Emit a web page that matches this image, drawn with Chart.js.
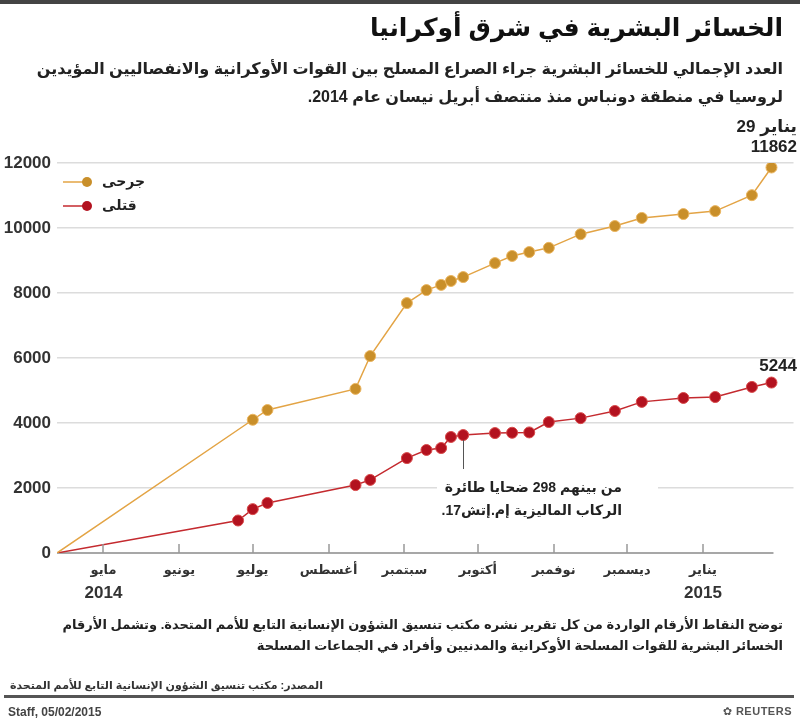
<!DOCTYPE html>
<html lang="ar">
<head>
<meta charset="utf-8">
<script src="https://cdn.jsdelivr.net/npm/chart.js@4"></script>
<style>
  body { margin: 0; background: #fff; }
  #wrap { position: relative; width: 800px; height: 723px; overflow: hidden; font-family: "Liberation Sans", "DejaVu Sans", sans-serif; color: #222; }
  #myChart { position: absolute; left: 0; top: 0; }
  .txt { position: absolute; direction: rtl; text-align: right; font-weight: bold; white-space: nowrap; }
  #topbar { position: absolute; left: 0; top: 0; width: 800px; height: 4px; background: #444; }
  #title { right: 17px; top: 13px; font-size: 25px; color: #111; }
  #sub { right: 17px; top: 55px; font-size: 16px; line-height: 28px; color: #222; }
  #note { right: 17px; top: 614px; font-size: 13px; line-height: 21px; color: #222; }
  #source { left: 10px; top: 679px; font-size: 11px; direction: rtl; color: #333; }
  #rule { position: absolute; left: 4px; top: 695px; width: 790px; height: 3px; background: #555; }
  #staff { position: absolute; left: 8px; top: 705px; font-size: 12px; font-weight: bold; color: #444; }
  #reuters { position: absolute; right: 8px; top: 705px; font-size: 11px; font-weight: bold; color: #555; letter-spacing: 0.5px; }
</style>
</head>
<body>
<div id="wrap">
  <canvas id="myChart" width="800" height="723"></canvas>
  <div id="topbar"></div>
  <div class="txt" id="title">الخسائر البشرية في شرق أوكرانيا</div>
  <div class="txt" id="sub">العدد الإجمالي للخسائر البشرية جراء الصراع المسلح بين القوات الأوكرانية والانفصاليين المؤيدين<br>لروسيا في منطقة دونباس منذ منتصف أبريل نيسان عام 2014.</div>
  <div class="txt" id="note">توضح النقاط الأرقام الواردة من كل تقرير نشره مكتب تنسيق الشؤون الإنسانية التابع للأمم المتحدة. وتشمل الأرقام<br>الخسائر البشرية للقوات المسلحة الأوكرانية والمدنيين وأفراد في الجماعات المسلحة</div>
  <div class="txt" id="source">المصدر: مكتب تنسيق الشؤون الإنسانية التابع للأمم المتحدة</div>
  <div id="rule"></div>
  <div id="staff">Staff, 05/02/2015</div>
  <div id="reuters">&#10047; REUTERS</div>
</div>
<script>
// days counted from 1 Jan 2014
let monthDays = [120, 151, 181, 212, 243, 273, 304, 334, 365];
let monthLabels = ['مايو', 'يونيو', 'يوليو', 'أغسطس', 'سبتمبر', 'أكتوبر', 'نوفمبر', 'ديسمبر', 'يناير'];
let yearLabels = ['2014', '', '', '', '', '', '', '', '2015'];

let woundedDays = [101, 181, 187, 223, 229, 244, 252, 258, 262, 267, 280, 287, 294, 302, 315, 329, 340, 357, 370, 385, 393];
let woundedValues = [0, 4100, 4400, 5050, 6060, 7690, 8090, 8250, 8370, 8490, 8920, 9140, 9260, 9390, 9810, 10060, 10310, 10430, 10520, 11010, 11862];

let killedDays = [101, 175, 181, 187, 223, 229, 244, 252, 258, 262, 267, 280, 287, 294, 302, 315, 329, 340, 357, 370, 385, 393];
let killedValues = [0, 1000, 1350, 1540, 2090, 2250, 2920, 3170, 3230, 3570, 3630, 3690, 3700, 3710, 4030, 4150, 4370, 4650, 4770, 4800, 5110, 5244];

let seriesNames = ['جرحى', 'قتلى'];
let lastDay = '29';
let lastMonth = 'يناير';
let noteIndex = 10; // killed point the MH17 note hangs from
let noteLines = ['من بينهم 298 ضحايا طائرة', 'الركاب الماليزية إم.إتش17.'];

const FONT = '"Liberation Sans", "DejaVu Sans", sans-serif';

function toPoints(days, vals) {
    return days.map((d, k) => ({ x: d, y: vals[k] }));
}

const extras = {
    id: 'extras',
    beforeDatasetsDraw(chart) {
        // zero line only runs as far as the data
        const c = chart.ctx;
        const xs = chart.scales.x;
        const y0 = chart.scales.y.getPixelForValue(0);
        c.save();
        c.strokeStyle = '#8a8a8a';
        c.lineWidth = 1.5;
        c.beginPath();
        c.moveTo(chart.chartArea.left, y0);
        c.lineTo(xs.getPixelForValue(woundedDays[woundedDays.length - 1]) + 2, y0);
        c.stroke();
        c.restore();
    },
    afterDatasetsDraw(chart) {
        const c = chart.ctx;
        const xs = chart.scales.x;
        const area = chart.chartArea;
        c.save();

        // tick marks pointing up from the baseline
        c.strokeStyle = '#999';
        c.lineWidth = 1.5;
        monthDays.forEach(d => {
            const px = Math.round(xs.getPixelForValue(d));
            c.beginPath();
            c.moveTo(px, area.bottom - 9);
            c.lineTo(px, area.bottom);
            c.stroke();
        });

        // years under the month names
        c.direction = 'ltr';
        c.fillStyle = '#333';
        c.font = 'bold 17px ' + FONT;
        c.textAlign = 'center';
        c.textBaseline = 'middle';
        yearLabels.forEach((y, k) => {
            if (y) c.fillText(y, xs.getPixelForValue(monthDays[k]), area.bottom + 40);
        });

        // end labels
        const w = chart.getDatasetMeta(0).data;
        const k = chart.getDatasetMeta(1).data;
        const wLast = w[w.length - 1];
        const kLast = k[k.length - 1];
        c.textAlign = 'right';
        c.fillStyle = '#222';
        c.fillText(woundedValues[woundedValues.length - 1], 797, wLast.y - 20);
        c.fillText(lastMonth, 797, wLast.y - 40);
        const mw = c.measureText(lastMonth).width;
        c.fillText(lastDay, 797 - mw - 5, wLast.y - 40);
        c.fillText(killedValues[killedValues.length - 1], 797, kLast.y - 16);

        // note about MH17
        const p = k[noteIndex];
        c.fillStyle = '#fff';
        c.fillRect(437, 474, 221, 48);
        c.strokeStyle = '#555';
        c.lineWidth = 1;
        c.beginPath();
        c.moveTo(Math.round(p.x) + 0.5, p.y + 5);
        c.lineTo(Math.round(p.x) + 0.5, p.y + 34);
        c.stroke();
        c.fillStyle = '#222';
        c.font = 'bold 14px ' + FONT;
        c.direction = 'rtl';
        c.textAlign = 'right';
        c.fillText(noteLines[0], 622, 488);
        c.fillText(noteLines[1], 622, 511);
        c.direction = 'ltr';

        // legend
        chart.data.datasets.forEach((ds, i) => {
            const ly = 182 + i * 24;
            c.strokeStyle = ds.borderColor;
            c.lineWidth = 1.5;
            c.beginPath();
            c.moveTo(63, ly);
            c.lineTo(87, ly);
            c.stroke();
            c.fillStyle = ds.pointBackgroundColor;
            c.beginPath();
            c.arc(87, ly, 5, 0, Math.PI * 2);
            c.fill();
            c.fillStyle = '#222';
            c.font = 'bold 14px ' + FONT;
            c.textAlign = 'left';
            c.fillText(seriesNames[i], 102, ly);
        });
        c.restore();
    }
};

const ctx = document.getElementById('myChart');

var chart = new Chart(ctx, {
    type: 'line',
    data: {
        datasets: [{
            label: seriesNames[0],
            data: toPoints(woundedDays, woundedValues),
            borderColor: '#e3a445',
            borderWidth: 1.5,
            pointBackgroundColor: '#c98f2a',
            pointBorderColor: '#eab560',
            pointBorderWidth: 1,
            pointRadius: (c) => c.dataIndex === 0 ? 0 : 5.5,
            tension: 0
        }, {
            label: seriesNames[1],
            data: toPoints(killedDays, killedValues),
            borderColor: '#c42a2f',
            borderWidth: 1.5,
            pointBackgroundColor: '#b3121f',
            pointBorderColor: '#d84a4a',
            pointBorderWidth: 1,
            pointRadius: (c) => c.dataIndex === 0 ? 0 : 5.5,
            tension: 0
        }]
    },
    options: {
        responsive: false,
        animation: false,
        devicePixelRatio: 1,
        layout: { padding: { top: 163, bottom: 110, left: 0, right: 2 } },
        plugins: {
            legend: { display: false },
            tooltip: { enabled: false }
        },
        scales: {
            x: {
                type: 'linear',
                min: 101,
                max: 402,
                afterBuildTicks: (s) => { s.ticks = monthDays.map(v => ({ value: v })); },
                afterFit: (s) => { s.height = 60; },
                grid: { display: false, drawTicks: false },
                border: { display: false },
                ticks: {
                    autoSkip: false,
                    maxRotation: 0,
                    padding: 10,
                    color: '#333',
                    font: { family: FONT, size: 13, weight: 'bold' },
                    callback: (v, i) => monthLabels[i]
                }
            },
            y: {
                min: 0,
                max: 12000,
                afterFit: (s) => { s.width = 57; },
                border: { display: false },
                grid: {
                    drawTicks: false,
                    lineWidth: 1.5,
                    color: (c) => c.tick && c.tick.value === 0 ? 'rgba(0,0,0,0)' : '#dcdcdc'
                },
                ticks: {
                    stepSize: 2000,
                    padding: 6,
                    color: '#333',
                    font: { family: FONT, size: 17, weight: 'bold' },
                    callback: (v) => String(v)
                }
            }
        }
    },
    plugins: [extras]
});
</script>
</body>
</html>
